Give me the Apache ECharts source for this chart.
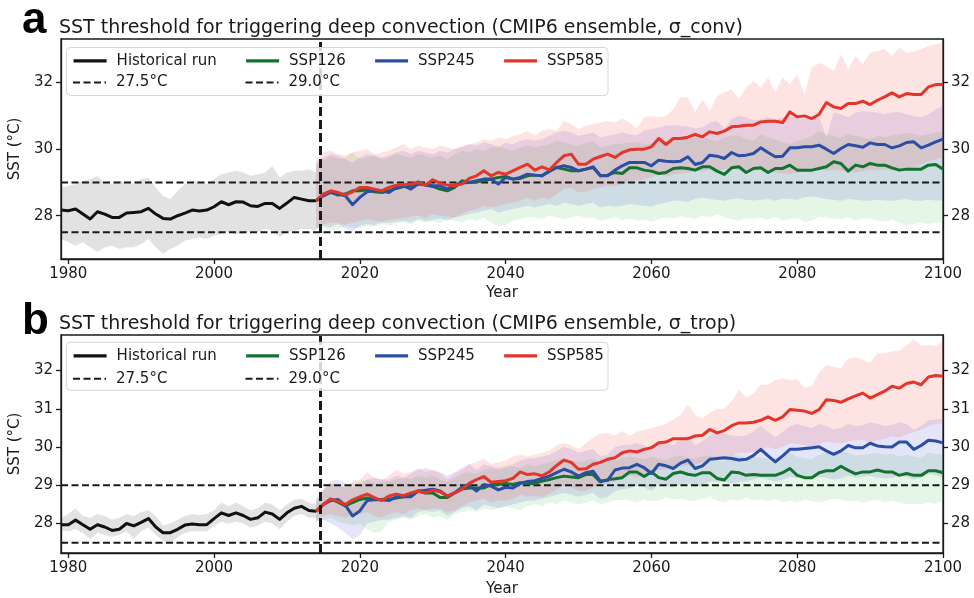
<!DOCTYPE html>
<html><head><meta charset="utf-8">
<script src="https://cdn.jsdelivr.net/npm/echarts@6/dist/echarts.min.js"></script>
<style>html,body{margin:0;padding:0;background:#fff}#c{width:974px;height:598px}</style>
</head><body><div id="c"></div>
<script>
// ---------- DATA ----------
const histStart = 1979, histEnd = 2014, sspStart = 2014, sspEnd = 2100;
const xTicks = [1980, 2000, 2020, 2040, 2060, 2080, 2100];
const yTicksA = [28, 30, 32];
const yTicksB = [28, 29, 30, 31, 32];
const thrLow = 27.5, thrHigh = 29.0;
const scenarioSplit = 2014.5;

// Panel a (sigma_conv)
const histA = [28.17,28.15,28.20,28.05,27.90,28.12,28.05,27.95,27.95,28.08,28.10,28.12,28.22,28.05,27.92,27.90,28.00,28.08,28.17,28.14,28.17,28.27,28.42,28.33,28.42,28.41,28.30,28.28,28.37,28.37,28.22,28.38,28.55,28.50,28.45,28.45];
const histA_hi = [28.85,28.90,28.95,29.05,29.10,29.20,29.00,28.95,29.05,29.00,28.95,29.10,29.15,28.85,28.60,28.50,28.75,28.95,29.05,29.00,28.95,29.10,29.25,29.30,29.35,29.30,29.20,29.25,29.30,29.50,29.15,29.30,29.35,29.35,29.40,29.30];
const histA_lo = [27.30,27.20,27.10,27.20,27.05,26.90,27.05,27.10,27.00,27.05,27.05,27.15,27.30,27.05,26.85,27.00,27.10,27.25,27.30,27.35,27.30,27.40,27.45,27.50,27.45,27.45,27.55,27.50,27.60,27.55,27.35,27.50,27.55,27.60,27.60,27.55];

const ssp126A = [28.45,28.65,28.72,28.62,28.65,28.75,28.75,28.78,28.72,28.70, 28.75,28.82,28.88,28.90,29.02,28.92,28.88,28.80,28.75,28.85, 29.05,29.00,29.02,29.05,29.10,29.15,29.18,29.10,29.12,29.20, 29.22,29.20,29.33,29.45,29.40,29.35,29.35,29.40,29.45,29.20, 29.22,29.30,29.27,29.44,29.44,29.37,29.34,29.27,29.30,29.42, 29.44,29.42,29.37,29.47,29.47,29.34,29.24,29.44,29.47,29.30, 29.42,29.44,29.30,29.42,29.42,29.52,29.37,29.37,29.37,29.42, 29.47,29.62,29.57,29.34,29.52,29.47,29.57,29.52,29.52,29.44, 29.37,29.40,29.40,29.40,29.52,29.54,29.40];
const ssp126A_lo = [27.60,27.65,27.55,27.60,27.70,27.65,27.62,27.70,27.68,27.75, 27.70,27.78,27.80,27.75,27.85,27.80,27.82,27.78,27.90,27.85, 27.80,27.90,27.85,27.95,27.80,27.70,27.72,27.85,27.90,27.95, 27.95,27.90,28.00,27.95,27.90,27.95,28.00,27.92,27.95,27.85, 27.90,27.95,27.87,27.92,27.85,27.88,27.82,27.90,27.95,27.92, 27.98,27.95,27.90,28.00,27.95,28.05,27.95,27.90,27.85,27.92, 27.92,27.95,27.88,27.97,27.85,27.90,27.92,27.81,27.85,27.97, 27.95,27.92,27.90,27.95,27.85,27.92,27.90,27.85,27.82,27.88, 27.80,27.70,27.75,27.80,27.75,27.78,27.80];
const ssp126A_hi = [29.50,29.65,29.80,29.70,29.75,29.90,29.70,29.75,29.80,29.70, 29.75,29.85,29.80,29.75,29.85,29.80,29.75,29.80,29.70,29.85, 29.95,29.90,30.00,29.95,30.05,30.10,30.00,29.95,30.05,30.10, 30.05,30.10,30.15,30.25,30.20,30.15,30.10,30.20,30.25,30.05, 30.10,30.15,30.17,30.20,30.22,30.15,30.17,30.20,30.25,30.27, 30.30,30.32,30.35,30.37,30.30,30.22,30.35,30.40,30.42,30.30, 30.25,30.45,30.35,30.30,30.20,30.15,30.25,30.30,30.40,30.55, 30.45,30.40,30.35,30.45,30.40,30.35,30.30,30.40,30.35,30.40, 30.45,30.50,30.45,30.40,30.45,30.50,30.55];

const ssp245A = [28.45,28.60,28.70,28.65,28.60,28.33,28.55,28.72,28.75,28.75, 28.70,28.85,28.90,28.80,28.95,28.92,28.90,28.90,28.80,28.92, 28.98,29.00,29.05,29.10,29.10,28.95,29.15,29.10,29.15,29.25, 29.22,29.20,29.35,29.45,29.50,29.45,29.35,29.40,29.47,29.20, 29.20,29.37,29.50,29.60,29.60,29.60,29.50,29.67,29.64,29.62, 29.64,29.77,29.54,29.60,29.82,29.79,29.72,29.90,29.80,29.82, 29.87,30.04,29.90,29.77,29.79,30.04,30.04,30.07,30.07,30.12, 30.00,29.87,30.02,30.14,30.10,30.06,30.19,30.14,30.14,30.04, 30.10,30.20,30.22,30.04,30.12,30.22,30.30];
const ssp245A_lo = [27.60,27.70,27.65,27.75,27.60,27.55,27.70,27.75,27.72,27.80, 27.78,27.82,27.85,27.80,27.90,27.85,27.88,27.92,27.85,27.95, 28.00,28.05,28.10,28.15,28.20,28.10,28.15,28.20,28.25,28.30, 28.25,28.30,28.35,28.30,28.40,28.35,28.30,28.35,28.40,28.25, 28.30,28.28,28.30,28.35,28.32,28.30,28.28,28.35,28.40,28.45, 28.45,28.42,28.50,28.55,28.50,28.48,28.45,28.50,28.52,28.48, 28.46,28.48,28.50,28.45,28.52,28.50,28.48,28.56,28.58,28.55, 28.50,28.48,28.45,28.50,28.48,28.46,28.45,28.48,28.46,28.45, 28.48,28.50,28.46,28.45,28.48,28.46,28.46];
const ssp245A_hi = [29.60,29.75,29.85,29.80,29.70,29.60,29.75,29.85,29.80,29.75, 29.80,29.90,29.95,29.85,29.95,29.90,29.85,29.95,29.90,30.00, 30.05,30.15,30.10,30.20,30.15,30.05,30.20,30.15,30.25,30.30, 30.25,30.30,30.40,30.50,30.55,30.50,30.40,30.45,30.50,30.35, 30.40,30.45,30.50,30.45,30.42,30.55,30.60,30.65,30.70,30.72, 30.70,30.68,30.62,30.65,30.80,30.85,30.62,30.90,31.00,30.95, 30.86,30.90,30.95,30.90,30.95,31.00,30.95,30.90,31.00,30.98, 30.35,31.10,31.05,30.95,31.10,31.15,31.12,31.10,31.05,31.10, 31.12,31.05,31.00,30.95,31.05,31.20,31.30];

const ssp585A = [28.45,28.65,28.75,28.70,28.62,28.72,28.85,28.85,28.80,28.75, 28.85,28.92,28.93,28.95,29.00,28.92,29.08,28.98,28.92,28.90, 28.95,29.12,29.20,29.35,29.20,29.30,29.25,29.35,29.45,29.55, 29.37,29.47,29.38,29.60,29.80,29.85,29.55,29.55,29.70,29.78, 29.85,29.75,29.90,29.98,30.00,30.00,30.07,30.32,30.14,30.32, 30.32,30.36,30.44,30.37,30.52,30.47,30.54,30.67,30.69,30.72, 30.72,30.82,30.84,30.84,30.80,31.12,30.97,31.00,30.92,31.04, 31.40,31.27,31.22,31.37,31.37,31.44,31.34,31.47,31.57,31.69, 31.57,31.67,31.64,31.64,31.87,31.94,31.94];
const ssp585A_lo = [27.65,27.75,27.80,27.78,27.72,27.80,27.85,27.90,27.85,27.82, 27.88,27.92,27.95,27.98,28.00,27.95,28.05,28.00,27.98,27.95, 28.05,28.15,28.20,28.30,28.25,28.30,28.35,28.40,28.45,28.55, 28.45,28.55,28.50,28.65,28.80,28.85,28.70,28.72,28.80,28.85, 28.90,28.88,28.95,29.00,29.05,29.10,29.15,29.25,29.18,29.25, 29.28,29.30,29.35,29.32,29.38,29.35,29.40,29.42,29.38,29.40, 29.40,29.38,29.35,29.30,29.28,29.26,29.30,29.36,29.40,29.38, 29.36,29.38,29.35,29.32,29.30,29.34,29.38,29.36,29.40,29.36, 29.40,29.42,29.45,29.55,29.65,29.70,29.75];
const ssp585A_hi = [29.70,29.90,29.95,29.85,29.80,29.90,29.95,30.00,29.85,29.90, 29.95,30.05,30.15,30.00,30.10,30.05,30.00,30.10,30.05,30.00, 30.10,30.15,30.20,30.30,30.25,30.35,30.30,30.40,30.45,30.55, 30.40,30.55,30.60,30.55,30.85,30.75,30.60,30.70,30.75,30.80, 30.85,30.80,30.92,30.80,30.62,30.97,31.00,30.95,31.00,31.20, 31.57,31.55,31.10,31.50,31.15,31.60,31.70,31.80,31.50,31.85, 32.05,31.85,32.15,31.70,32.15,31.95,32.25,31.65,32.45,32.60, 32.50,32.35,32.85,32.40,32.80,32.55,32.90,32.95,33.00,32.80, 33.05,32.90,32.95,33.00,33.10,33.15,33.20];

// Panel b (sigma_trop)
const histB = [27.97,27.97,28.09,27.97,27.85,27.97,27.91,27.82,27.85,28.00,27.94,28.03,28.13,27.91,27.76,27.76,27.85,27.96,27.99,27.97,27.97,28.13,28.28,28.21,28.28,28.21,28.11,28.15,28.30,28.25,28.11,28.28,28.40,28.45,28.34,28.32];
const histB_hi = [28.15,28.25,28.40,28.20,28.15,28.25,28.20,28.10,28.15,28.25,28.20,28.30,28.35,28.20,27.95,28.00,28.10,28.20,28.25,28.22,28.25,28.35,28.55,28.45,28.55,28.45,28.35,28.40,28.55,28.50,28.35,28.50,28.62,28.65,28.55,28.50];
const histB_lo = [27.82,27.80,27.85,27.75,27.60,27.75,27.70,27.65,27.70,27.80,27.60,27.80,27.90,27.70,27.55,27.45,27.65,27.75,27.80,27.80,27.80,27.95,28.05,28.00,28.05,28.00,27.90,27.95,28.05,28.00,27.85,28.05,28.20,28.25,28.15,28.15];

const ssp126B = [28.32,28.50,28.64,28.56,28.46,28.55,28.63,28.67,28.63,28.63, 28.63,28.67,28.70,28.75,28.85,28.80,28.80,28.68,28.68,28.80, 28.90,28.93,28.93,28.93,29.02,29.02,29.05,29.02,29.07,29.05, 29.05,29.11,29.15,29.20,29.24,29.22,29.20,29.28,29.28,29.09, 29.15,29.17,29.20,29.35,29.35,29.23,29.35,29.20,29.16,29.31, 29.35,29.29,29.26,29.33,29.33,29.18,29.14,29.35,29.33,29.26, 29.28,29.26,29.26,29.26,29.33,29.44,29.26,29.20,29.20,29.33, 29.38,29.38,29.50,29.39,29.30,29.35,29.35,29.40,29.35,29.35, 29.26,29.31,29.26,29.26,29.38,29.38,29.33];
const ssp126B_lo = [28.05,28.10,28.15,28.05,28.00,27.95,28.00,27.85,27.75,27.80, 28.05,28.10,28.15,28.10,28.20,28.25,28.15,28.20,28.10,28.25, 28.30,28.35,28.30,28.40,28.35,28.40,28.45,28.40,28.35,28.45, 28.50,28.45,28.55,28.50,28.60,28.55,28.50,28.55,28.60,28.50, 28.55,28.60,28.62,28.60,28.55,28.62,28.58,28.60,28.68,28.62, 28.65,28.60,28.58,28.65,28.70,28.60,28.55,28.62,28.60,28.68, 28.60,28.62,28.58,28.65,28.55,28.60,28.55,28.62,28.58,28.55, 28.60,28.65,28.62,28.58,28.60,28.55,28.58,28.62,28.55,28.60, 28.55,28.50,28.52,28.50,28.55,28.52,28.60];
const ssp126B_hi = [28.60,28.85,29.05,29.00,28.95,29.05,29.10,29.15,29.05,29.10, 29.10,29.15,29.20,29.15,29.25,29.20,29.25,29.15,29.10,29.20, 29.30,29.35,29.30,29.40,29.45,29.40,29.45,29.50,29.45,29.55, 29.50,29.55,29.60,29.65,29.70,29.65,29.60,29.65,29.70,29.55, 29.60,29.65,29.70,29.75,29.72,29.68,29.75,29.70,29.65,29.75, 29.78,29.72,29.70,29.75,29.78,29.65,29.62,29.80,29.78,29.72, 29.75,29.72,29.70,29.72,29.78,29.85,29.75,29.70,29.68,29.80, 29.85,29.82,29.90,29.85,29.78,29.80,29.82,29.85,29.80,29.82, 29.75,29.80,29.75,29.72,29.85,29.82,29.80];

const ssp245B = [28.32,28.50,28.60,28.63,28.48,28.20,28.33,28.60,28.62,28.62, 28.60,28.70,28.70,28.70,28.85,28.87,28.90,28.85,28.72,28.80, 28.95,29.00,28.85,29.02,28.98,28.88,28.95,28.93,29.05,29.10, 29.12,29.18,29.24,29.33,29.42,29.35,29.24,29.33,29.37,29.11, 29.13,29.40,29.45,29.46,29.55,29.46,29.31,29.55,29.51,29.44, 29.58,29.66,29.44,29.51,29.68,29.70,29.72,29.70,29.66,29.68, 29.78,29.94,29.77,29.61,29.77,29.94,29.94,29.96,29.98,30.01, 29.90,29.81,29.90,30.04,29.98,29.98,30.10,30.03,30.01,30.00, 30.13,30.13,29.94,30.04,30.18,30.16,30.11];
const ssp245B_lo = [28.05,28.10,28.00,27.90,27.75,27.60,27.70,28.00,28.05,28.10, 28.10,28.15,28.20,28.15,28.30,28.35,28.30,28.35,28.20,28.30, 28.40,28.45,28.35,28.50,28.45,28.40,28.45,28.50,28.55,28.60, 28.60,28.65,28.70,28.75,28.80,28.75,28.70,28.75,28.80,28.65, 28.70,28.85,28.90,28.92,29.00,28.95,28.85,29.00,28.98,28.95, 29.02,29.05,28.95,29.00,29.10,29.08,29.10,29.05,29.08,29.10, 29.15,29.20,29.15,29.10,29.15,29.22,29.20,29.25,29.20,29.22, 29.20,29.15,29.18,29.25,29.20,29.22,29.25,29.20,29.18,29.20, 29.25,29.22,29.15,29.20,29.30,29.25,29.20];
const ssp245B_hi = [28.65,28.90,29.10,29.15,29.05,28.95,29.00,29.15,29.20,29.15, 29.15,29.25,29.20,29.30,29.40,29.45,29.40,29.35,29.25,29.35, 29.45,29.55,29.40,29.55,29.50,29.45,29.50,29.55,29.65,29.70, 29.70,29.75,29.80,29.90,30.00,29.95,29.85,29.90,29.95,29.75, 29.80,30.00,30.05,30.05,30.10,30.05,29.90,30.15,30.10,30.05, 30.20,30.30,30.05,30.15,30.30,30.35,30.35,30.30,30.28,30.30, 30.40,30.55,30.40,30.25,30.40,30.55,30.60,30.55,30.50,30.60, 30.55,30.45,30.50,30.60,30.55,30.58,30.65,30.60,30.55,30.58, 30.65,30.60,30.45,30.55,30.70,30.72,30.75];

const ssp585B = [28.32,28.50,28.64,28.58,28.50,28.62,28.70,28.77,28.68,28.60, 28.72,28.77,28.73,28.80,28.85,28.80,28.87,28.83,28.72,28.80, 28.90,29.05,29.15,29.23,29.08,29.10,29.12,29.18,29.35,29.28, 29.30,29.25,29.35,29.52,29.66,29.60,29.42,29.43,29.55,29.60, 29.68,29.72,29.85,29.90,29.87,29.94,29.98,30.11,30.13,30.22, 30.22,30.22,30.29,30.31,30.46,30.37,30.43,30.56,30.63,30.63, 30.65,30.70,30.79,30.70,30.79,30.98,30.96,30.94,30.88,30.98, 31.24,31.22,31.17,31.26,31.34,31.41,31.28,31.37,31.46,31.59, 31.54,31.66,31.70,31.63,31.83,31.87,31.85];
const ssp585B_lo = [28.10,28.20,28.25,28.20,28.15,28.20,28.25,28.30,28.20,28.15, 28.25,28.30,28.25,28.35,28.40,28.35,28.40,28.38,28.30,28.35, 28.45,28.55,28.60,28.65,28.55,28.60,28.60,28.65,28.75,28.70, 28.72,28.70,28.78,28.90,29.00,28.95,28.85,28.85,28.95,29.00, 29.05,29.10,29.20,29.25,29.22,29.28,29.30,29.40,29.42,29.50, 29.50,29.52,29.55,29.60,29.70,29.65,29.70,29.78,29.85,29.85, 29.88,29.92,30.00,29.95,30.00,30.10,30.08,30.05,30.02,30.08, 30.15,30.12,30.10,30.15,30.18,30.20,30.12,30.18,30.22,30.28, 30.25,30.32,30.40,30.45,30.55,30.60,30.62];
const ssp585B_hi = [28.55,28.90,29.05,29.00,28.95,29.10,29.15,29.35,29.20,29.15, 29.25,29.40,29.30,29.35,29.45,29.35,29.40,29.30,29.15,29.30, 29.40,29.55,29.60,29.70,29.55,29.60,29.65,29.75,29.80,29.75, 29.80,29.85,29.90,30.05,30.10,30.05,29.95,30.10,30.25,30.35, 30.37,30.30,30.42,30.29,30.40,30.45,30.50,30.55,30.60,30.72, 30.85,31.11,30.85,30.75,30.90,31.00,31.00,31.20,31.50,31.30, 31.40,31.63,31.63,31.75,31.80,31.75,31.78,31.55,31.60,31.95, 32.15,32.10,32.05,32.32,32.35,32.28,32.20,32.45,32.45,32.50, 32.52,32.67,32.82,32.65,32.67,32.65,32.76];

// ---------- STYLE ----------
const FONT = 'DejaVu Sans';
const INK = '#1a1a1a';
const C_HIST = '#111111', C_126 = '#13722f', C_245 = '#2b4ea4', C_585 = '#e4352a';
const F_HIST = 'rgba(0,0,0,0.115)', F_126 = 'rgba(70,185,80,0.14)', F_245 = 'rgba(95,100,215,0.17)', F_585 = 'rgba(250,70,70,0.15)';
const DASH_H = [7, 3.5], DASH_V = [9, 4];

const histYears = [], sspYears = [];
for (let y = histStart; y <= histEnd; y++) histYears.push(y);
for (let y = sspStart; y <= sspEnd; y++) sspYears.push(y);
const xExtent = [histStart, sspEnd];

function band(name, xs, lo, hi, fill, gi, z) {
  return {
    type: 'custom', name: name, xAxisIndex: gi, yAxisIndex: gi * 2, z: z, silent: true, clip: true,
    data: xs.map((x, i) => [x, lo[i], hi[i]]),
    encode: { x: 0, y: [1, 2] },
    renderItem: function (params, api) {
      if (params.dataIndex !== 0) return null;
      const pts = [];
      for (let i = 0; i < xs.length; i++) pts.push(api.coord([xs[i], hi[i]]));
      for (let i = xs.length - 1; i >= 0; i--) pts.push(api.coord([xs[i], lo[i]]));
      return { type: 'polygon', shape: { points: pts }, style: { fill: fill, stroke: null } };
    }
  };
}
function line(name, xs, ys, color, gi, z, extra) {
  return Object.assign({
    type: 'line', name: name, xAxisIndex: gi, yAxisIndex: gi * 2, z: z, silent: true,
    data: xs.map((x, i) => [x, ys[i]]), showSymbol: false, symbol: 'none', animation: false,
    lineStyle: { color: color, width: 3, join: 'round' }, itemStyle: { color: color }
  }, extra || {});
}
function thr(name, v, gi) {
  return {
    type: 'line', name: name, xAxisIndex: gi, yAxisIndex: gi * 2, z: 3, silent: true,
    data: [[xExtent[0], v], [xExtent[1], v]], showSymbol: false, symbol: 'none',
    lineStyle: { color: INK, width: 2, type: DASH_H }, itemStyle: { color: INK }
  };
}
function panel(gi, hist, hlo, hhi, s1, s1l, s1h, s2, s2l, s2h, s3, s3l, s3h) {
  return [
    band('hist range', histYears, hlo, hhi, F_HIST, gi, 1),
    band('SSP126 range', sspYears, s1l, s1h, F_126, gi, 1),
    band('SSP245 range', sspYears, s2l, s2h, F_245, gi, 1),
    band('SSP585 range', sspYears, s3l, s3h, F_585, gi, 1),
    thr('27.5°C', thrLow, gi),
    thr('29.0°C', thrHigh, gi),
    line('Historical run', histYears, hist, C_HIST, gi, 4),
    line('SSP126', sspYears, s1, C_126, gi, 4),
    line('SSP245', sspYears, s2, C_245, gi, 4),
    line('SSP585', sspYears, s3, C_585, gi, 4, {
      markLine: { symbol: 'none', silent: true, animation: false, label: { show: false },
        lineStyle: { color: INK, width: 3, type: DASH_V }, data: [{ xAxis: scenarioSplit }] }
    })
  ];
}

const grids = [
  { left: 59, right: 31, top: 39, height: 220, show: true, borderColor: INK, borderWidth: 1.3, backgroundColor: 'transparent' },
  { left: 59, right: 31, top: 335, height: 219, show: true, borderColor: INK, borderWidth: 1.3, backgroundColor: 'transparent' }
];
function xAx(gi, gap) {
  return {
    type: 'value', gridIndex: gi, min: xExtent[0], max: xExtent[1],
    name: 'Year', nameLocation: 'middle', nameGap: gap,
    nameTextStyle: { fontFamily: FONT, fontSize: 15, color: INK },
    axisLine: { onZero: false, lineStyle: { color: INK, width: 1.3 } },
    axisTick: { show: true, length: 5, customValues: xTicks, lineStyle: { color: INK, width: 1.3 } },
    axisLabel: { customValues: xTicks, fontFamily: FONT, fontSize: 15, color: INK, margin: 8, formatter: v => String(v) },
    splitLine: { show: false }
  };
}
function yAx(gi, pos, mn, mx, ticks, withName) {
  const a = {
    type: 'value', gridIndex: gi, position: pos, min: mn, max: mx,
    axisLine: { show: true, onZero: false, lineStyle: { color: INK, width: 1.3 } },
    axisTick: { show: true, length: 5, customValues: ticks, lineStyle: { color: INK, width: 1.3 } },
    axisLabel: { customValues: ticks, fontFamily: FONT, fontSize: 15, color: INK, margin: 8, formatter: v => String(v) },
    splitLine: { show: false }
  };
  if (withName) {
    a.name = 'SST (°C)'; a.nameLocation = 'middle'; a.nameGap = 30;
    a.nameTextStyle = { fontFamily: FONT, fontSize: 15, color: INK };
  }
  return a;
}

function leg(name, left, top, dashed) {
  return {
    data: [name], left: left, top: top, padding: 0, z: 60, selectedMode: false,
    itemWidth: 33, itemHeight: 12,
    itemStyle: { opacity: 0, borderWidth: 0 },
    lineStyle: dashed ? { width: 2, type: DASH_H } : { width: 3.2 },
    textStyle: { fontFamily: FONT, fontSize: 15, color: INK, padding: [0, 0, 0, 5] }
  };
}
function legendsAt(r1, r2) {
  return [
    leg('Historical run', 72, r1 - 6, false), leg('27.5°C', 72, r2 - 6, true),
    leg('SSP126', 244.5, r1 - 6, false), leg('29.0°C', 244.5, r2 - 6, true),
    leg('SSP245', 373.5, r1 - 6, false), leg('SSP585', 502.5, r1 - 6, false)
  ];
}
function legBox(y) {
  return { type: 'rect', z: 50, silent: true, shape: { x: 66.5, y: y, width: 541.5, height: 48, r: 4 },
    style: { fill: 'rgba(255,255,255,0.82)', stroke: '#d6d6d6', lineWidth: 1 } };
}

const titleStyle = { fontFamily: FONT, fontSize: 19, fontWeight: 'normal', color: INK };
const letterStyle = { fontFamily: 'Liberation Sans', fontSize: 44, fontWeight: 'bold', color: '#000' };

const option = {
  animation: false,
  backgroundColor: '#ffffff',
  title: [
    { text: 'a', left: 22, top: -1, padding: 0, textStyle: letterStyle },
    { text: 'SST threshold for triggering deep convection (CMIP6 ensemble, σ_conv)', left: 59, top: 19, padding: 0, textStyle: titleStyle },
    { text: 'b', left: 22, top: 300, padding: 0, textStyle: letterStyle },
    { text: 'SST threshold for triggering deep convection (CMIP6 ensemble, σ_trop)', left: 59, top: 315, padding: 0, textStyle: titleStyle }
  ],
  grid: grids,
  xAxis: [xAx(0, 27), xAx(1, 29)],
  yAxis: [
    yAx(0, 'left', 26.70, 33.31, yTicksA, true), yAx(0, 'right', 26.70, 33.31, yTicksA, false),
    yAx(1, 'left', 27.23, 32.93, yTicksB, true), yAx(1, 'right', 27.23, 32.93, yTicksB, false)
  ],
  legend: legendsAt(59.3, 81).concat(legendsAt(354.3, 377.3)),
  graphic: { elements: [legBox(47.5), legBox(342.3)] },
  series: panel(0, histA, histA_lo, histA_hi, ssp126A, ssp126A_lo, ssp126A_hi, ssp245A, ssp245A_lo, ssp245A_hi, ssp585A, ssp585A_lo, ssp585A_hi)
    .concat(panel(1, histB, histB_lo, histB_hi, ssp126B, ssp126B_lo, ssp126B_hi, ssp245B, ssp245B_lo, ssp245B_hi, ssp585B, ssp585B_lo, ssp585B_hi))
};

const chart = echarts.init(document.getElementById('c'), null, { renderer: 'canvas' });
chart.setOption(option);
</script>
</body></html>
